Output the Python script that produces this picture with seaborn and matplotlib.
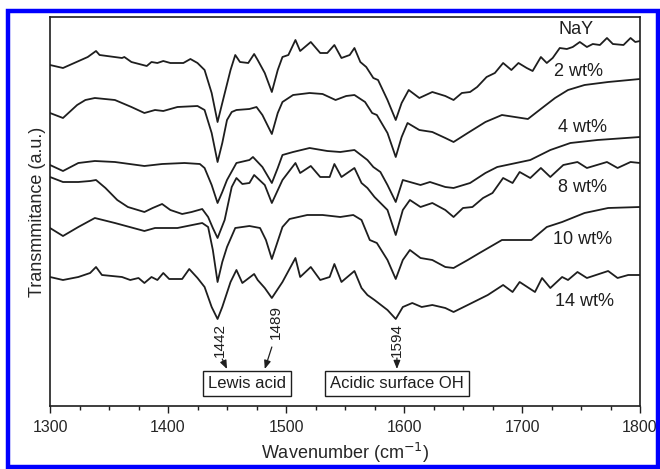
import numpy as np
import pandas as pd
import matplotlib
matplotlib.use("Agg")
import matplotlib.pyplot as plt
from matplotlib.patches import Rectangle
import seaborn as sns

# ---------------- data (offset a.u.) ----------------
nay_wn = [1300,1311,1332,1339,1342,1361,1363,1369,1382,1386,1391,1396,1402,1413,1419,1425,1431,1437,1442,1446,
          1453,1457,1461,1468,1473,1476,1482,1488,1493,1497,1502,1508,1512,1521,1529,1535,1541,1547,1554,1558,
          1563,1568,1574,1578,1586,1593,1598,1604,1613,1624,1635,1642,1649,1656,1662,1670,1677,1684,1691,1697,
          1704,1709,1716,1721,1726,1732,1738,1743,1749,1755,1760,1766,1772,1777,1786,1792,1796,1800]
nay_t = [341,338,349,355,351,348,349,344,340,344,343,345,343,343,347,343,336,313,284,303,
         336,351,344,343,352,346,333,314,336,349,351,366,355,364,353,353,361,348,351,358,
         344,339,328,326,306,286,303,316,308,314,310,306,313,314,319,329,333,343,336,343,
         338,335,349,343,348,358,357,359,364,359,362,361,368,362,361,368,364,365]

w2_wn = [1300,1311,1323,1330,1338,1355,1369,1380,1389,1396,1408,1425,1431,1437,1442,1446,1450,1454,1458,1469,
         1475,1480,1488,1493,1497,1506,1520,1531,1542,1551,1558,1567,1573,1577,1586,1593,1598,1603,1613,1624,
         1635,1642,1654,1669,1683,1694,1705,1717,1728,1739,1753,1773,1800]
w2_t = [293,288,301,306,308,306,299,293,296,295,299,300,296,273,244,263,286,294,296,297,
        299,291,272,293,304,311,313,312,306,310,311,304,293,291,273,249,269,283,276,274,
        268,264,273,284,291,289,287,298,308,316,321,324,327]

w4_wn = [1300,1311,1324,1338,1355,1380,1395,1414,1427,1431,1437,1442,1446,1450,1458,1469,1472,1480,1488,1493,
         1497,1506,1520,1535,1546,1558,1569,1574,1580,1586,1593,1599,1605,1614,1622,1635,1642,1656,1669,1679,
         1707,1724,1741,1764,1800]
w4_t = [241,235,243,245,244,240,242,243,242,238,221,203,214,226,243,246,249,239,223,238,
        251,254,258,255,254,256,246,239,234,221,204,226,224,221,224,219,218,223,233,239,
        246,256,263,266,269]

w8_wn = [1300,1311,1324,1334,1339,1347,1357,1366,1380,1387,1395,1402,1412,1420,1429,1434,1438,1442,1448,1454,
         1458,1463,1469,1473,1482,1488,1497,1508,1512,1521,1529,1537,1541,1547,1558,1564,1569,1575,1586,1593,
         1599,1605,1614,1624,1635,1642,1650,1658,1667,1675,1684,1692,1698,1707,1716,1724,1735,1747,1755,1772,
         1781,1792,1800]
w8_t = [229,224,224,225,226,218,206,199,194,198,202,196,192,194,197,189,178,168,186,219,
        228,222,223,231,221,203,226,243,233,240,229,229,242,229,238,223,218,209,196,171,
        196,206,199,203,196,189,198,199,208,213,228,223,234,228,238,229,241,244,238,244,
        238,244,243]

w10_wn = [1300,1311,1324,1338,1355,1380,1389,1408,1429,1434,1438,1442,1446,1450,1457,1469,1478,1483,1488,1497,
          1503,1518,1531,1546,1557,1564,1571,1577,1586,1593,1599,1605,1614,1624,1635,1642,1654,1664,1683,1708,
          1721,1734,1753,1773,1800]
w10_t = [178,170,179,188,183,175,178,178,183,179,156,124,144,159,178,180,178,166,147,179,
         187,191,191,189,191,186,166,163,146,127,146,156,148,146,139,138,146,153,166,166,
         179,184,193,198,199]

w14_wn = [1300,1311,1324,1334,1339,1344,1361,1368,1375,1380,1386,1391,1396,1401,1412,1418,1425,1431,1437,1442,
          1446,1453,1458,1463,1473,1476,1482,1488,1497,1508,1512,1521,1529,1537,1541,1547,1558,1564,1569,1575,
          1586,1593,1599,1607,1615,1624,1635,1642,1654,1671,1684,1692,1698,1711,1717,1724,1734,1739,1747,1755,
          1773,1781,1790,1800]
w14_t = [129,126,129,133,139,131,129,126,128,123,129,126,133,127,127,137,128,119,99,87,
         99,124,136,123,132,126,118,108,124,148,129,139,126,129,142,124,135,118,111,106,
         96,87,99,103,99,101,98,94,101,111,121,114,124,114,128,118,129,126,134,128,
         135,128,131,131]

samples = ["NaY", "2 wt%", "4 wt%", "8 wt%", "10 wt%", "14 wt%"]
series_wn = [nay_wn, w2_wn, w4_wn, w8_wn, w10_wn, w14_wn]
series_t = [nay_t, w2_t, w4_t, w8_t, w10_t, w14_t]
label_pos = [(1746, 376), (1748, 334), (1751, 279), (1751, 219), (1751, 167), (1753, 104)]

peak_labels = ["1442", "1489", "1594"]
box_labels = ["Lewis acid", "Acidic surface OH"]
x_ticks = [1300, 1400, 1500, 1600, 1700, 1800]

frames = []
for name, wn, t in zip(samples, series_wn, series_t):
    frames.append(pd.DataFrame({"wn": wn, "t": t, "sample": name}))
df = pd.concat(frames, ignore_index=True)

# ---------------- figure ----------------
sns.set_style("ticks")
plt.rcParams["font.family"] = ["Liberation Sans", "DejaVu Sans"]

W, H = 660, 469
fig = plt.figure(figsize=(W / 100, H / 100), dpi=100)
ax = fig.add_axes([50 / W, 1 - 406 / H, 590 / W, 389 / H])

line_col = "#1e1e1e"
sns.lineplot(data=df, x="wn", y="t", hue="sample", units="sample", estimator=None,
             palette=[line_col] * len(samples), legend=False, linewidth=1.3, ax=ax, sort=False)
for ln in ax.lines:
    ln.set_solid_joinstyle("round")

ax.set_xlim(1300, 1800)
ax.set_ylim(0, 389)
ax.set_xticks(x_ticks)
ax.set_xticks(np.arange(1300, 1801, 25), minor=True)
ax.set_yticks([])
ax.tick_params(axis="x", which="major", direction="out", length=5, width=1.0, labelsize=11.5, pad=5,
               color=line_col)
ax.tick_params(axis="x", which="minor", direction="out", length=3, width=1.0, color=line_col)
for s in ax.spines.values():
    s.set_visible(True)
    s.set_linewidth(1.2)
    s.set_color(line_col)

ax.set_xlabel("Wavenumber (cm$^{-1}$)", fontsize=13, labelpad=4)
ax.set_ylabel("Transmmitance (a.u.)", fontsize=13, labelpad=3)

for name, (lx, ly) in zip(samples, label_pos):
    ax.text(lx, ly, name, fontsize=13, ha="center", va="center", color=line_col)

# peak annotations
peak_text_pos = [(1444, 66), (1491, 84), (1594, 66)]
arrows = [((1446, 47), (1450, 37)), ((1488, 59), (1482, 37)), ((1594, 48), (1594, 37))]
for lab, (tx, ty) in zip(peak_labels, peak_text_pos):
    ax.text(tx, ty, lab, rotation=90, fontsize=11, ha="center", va="center", color=line_col)
for (p0, p1) in arrows:
    ax.annotate("", xy=p1, xytext=p0,
                arrowprops=dict(arrowstyle="-|>,head_length=0.5,head_width=0.2", color=line_col, lw=0.9,
                                mutation_scale=10, shrinkA=0, shrinkB=0))

box_pos = [(1467, 23), (1594, 23)]
for lab, (bx, by) in zip(box_labels, box_pos):
    ax.text(bx, by, lab, fontsize=12, ha="center", va="center", color=line_col,
            bbox=dict(boxstyle="square,pad=0.3", fc="white", ec=line_col, lw=1.0))

# blue frame around the figure
fig.patches.append(Rectangle((8 / W, 1 - 467 / H), 650 / W, 456 / H, transform=fig.transFigure,
                             fill=False, edgecolor="#0000ff", linewidth=3.2))

fig.savefig("out.png", dpi=100)
